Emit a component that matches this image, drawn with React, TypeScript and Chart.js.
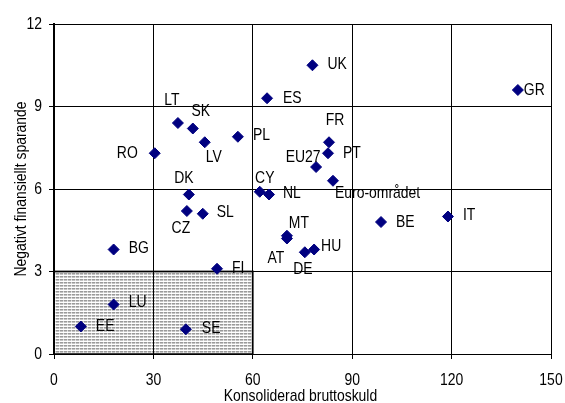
import { useEffect, useRef } from "react";
import { Chart, registerables } from "chart.js";

Chart.register(...registerables);

// Country / aggregate codes
const countries = [
  "UK", "GR", "ES", "LT", "SK", "LV", "PL", "RO", "FR", "PT", "EU27", "Euro-området",
  "DK", "CY", "NL", "CZ", "SL", "BE", "IT", "MT", "AT", "DE", "HU", "BG", "FI", "LU", "EE", "SE",
];

// Konsoliderad bruttoskuld (% av BNP)
const grossDebt = [
  78, 140, 64.3, 37.4, 41.9, 45.5, 55.5, 30.4, 83, 82.7, 79.1, 84.2,
  40.7, 62.1, 64.9, 40.1, 44.9, 98.7, 118.9, 70.3, 70.3, 75.7, 78.5, 18, 49.2, 18, 8.1, 39.8,
];

// Negativt finansiellt sparande (% av BNP)
const netLending = [
  10.5, 9.6, 9.3, 8.4, 8.2, 7.7, 7.9, 7.3, 7.7, 7.3, 6.8, 6.3,
  5.8, 5.9, 5.8, 5.2, 5.1, 4.8, 5.0, 4.3, 4.2, 3.7, 3.8, 3.8, 3.1, 1.8, 1.0, 0.9,
];

// Axis ticks and titles
const xTicks = [0, 30, 60, 90, 120, 150];
const yTicks = [0, 3, 6, 9, 12];
const xTitle = "Konsoliderad bruttoskuld";
const yTitle = "Negativt finansiellt sparande";

// Shaded reference zone (debt ≤ 60, deficit ≤ 3)
const zoneX = [0, 60];
const zoneY = [0, 3];

// Label placement relative to each marker: [dx, dy, align]
const labelOffsets: [number, number, CanvasTextAlign][] = [
  [15, -1, "left"], [6, 0, "left"], [16, 0, "left"], [-6, -23, "center"], [8, -17, "center"],
  [9, 15, "center"], [15, -1, "left"], [-17, 0, "right"], [6, -22, "center"], [15, 0, "left"],
  [-13, -10, "center"], [2, 13, "left"], [-5, -16, "center"], [5, -13, "center"], [14, -1, "left"],
  [-6, 17, "center"], [14, -1, "left"], [15, 0, "left"], [15, -1, "left"], [12, -12, "center"],
  [-11, 20, "center"], [-2, 17, "center"], [7, -3, "left"], [15, -1, "left"], [15, 0, "left"],
  [15, -2, "left"], [15, 0, "left"], [16, -1, "left"],
];

const FONT = "17px 'Liberation Sans', Arial, sans-serif";
const NARROW = 0.82; // horizontal squeeze for a condensed look

function narrowText(
  ctx: CanvasRenderingContext2D,
  text: string,
  x: number,
  y: number,
  align: CanvasTextAlign,
  rotate = false,
) {
  ctx.save();
  ctx.translate(x, y);
  if (rotate) ctx.rotate(-Math.PI / 2);
  ctx.scale(NARROW, 1);
  ctx.font = FONT;
  ctx.fillStyle = "#000";
  ctx.textAlign = align;
  ctx.textBaseline = "middle";
  ctx.fillText(text, 0, 0);
  ctx.restore();
}

function makePattern(ctx: CanvasRenderingContext2D) {
  const c = document.createElement("canvas");
  c.width = 4;
  c.height = 3;
  const p = c.getContext("2d")!;
  p.fillStyle = "#ffffff";
  p.fillRect(0, 0, 4, 3);
  p.fillStyle = "#9a9a9a";
  p.fillRect(0, 0, 3, 1);
  p.fillStyle = "#dadada";
  p.fillRect(3, 0, 1, 1);
  p.fillStyle = "#c4c4c4";
  p.fillRect(0, 1, 3, 1);
  p.fillStyle = "#f0f0f0";
  p.fillRect(3, 1, 1, 1);
  return ctx.createPattern(c, "repeat");
}

const zonePlugin = {
  id: "zone",
  beforeDraw(chart: any) {
    const { ctx, scales } = chart;
    const x0 = scales.x.getPixelForValue(zoneX[0]);
    const x1 = scales.x.getPixelForValue(zoneX[1]);
    const y0 = scales.y.getPixelForValue(zoneY[1]);
    const y1 = scales.y.getPixelForValue(zoneY[0]);
    ctx.save();
    ctx.fillStyle = makePattern(ctx) || "#ccc";
    ctx.fillRect(x0, y0, x1 - x0, y1 - y0);
    ctx.strokeStyle = "#404040";
    ctx.lineWidth = 2;
    ctx.strokeRect(x0, y0, x1 - x0, y1 - y0);
    ctx.restore();
  },
};

const textPlugin = {
  id: "narrowText",
  afterDraw(chart: any) {
    const { ctx, scales, chartArea } = chart;
    xTicks.forEach((v) => narrowText(ctx, String(v), scales.x.getPixelForValue(v), chartArea.bottom + 26, "center"));
    yTicks.forEach((v) => narrowText(ctx, String(v), chartArea.left - 12, scales.y.getPixelForValue(v), "right"));
    narrowText(ctx, xTitle, (chartArea.left + chartArea.right) / 2 - 2, chartArea.bottom + 42, "center");
    narrowText(ctx, yTitle, 21, (chartArea.top + chartArea.bottom) / 2, "center", true);
  },
  afterDatasetsDraw(chart: any) {
    const { ctx } = chart;
    const meta = chart.getDatasetMeta(0);
    meta.data.forEach((pt: any, i: number) => {
      const [dx, dy, align] = labelOffsets[i];
      narrowText(ctx, countries[i], pt.x + dx, pt.y + dy, align);
    });
  },
};

export default function App() {
  const ref = useRef<HTMLCanvasElement>(null);

  useEffect(() => {
    if (!ref.current) return;
    const chart = new Chart(ref.current, {
      type: "scatter",
      data: {
        datasets: [
          {
            data: countries.map((_, i) => ({ x: grossDebt[i], y: netLending[i] })),
            pointStyle: "rectRot",
            pointRadius: 5.5,
            pointHoverRadius: 5.5,
            backgroundColor: "#000080",
            borderColor: "#000080",
            borderWidth: 1,
          },
        ],
      },
      options: {
        animation: false,
        responsive: false,
        events: [],
        layout: { padding: { top: 24, right: 14, left: 0, bottom: 0 } },
        plugins: { legend: { display: false }, tooltip: { enabled: false } },
        scales: {
          x: {
            type: "linear",
            min: xTicks[0],
            max: xTicks[xTicks.length - 1],
            afterBuildTicks: (s: any) => { s.ticks = xTicks.map((v) => ({ value: v })); },
            afterFit: (s: any) => { s.height = 49; },
            ticks: { display: false },
            grid: { color: "#000", lineWidth: 1, tickLength: 5 },
            border: { color: "#000", width: 1 },
          },
          y: {
            type: "linear",
            min: yTicks[0],
            max: yTicks[yTicks.length - 1],
            afterBuildTicks: (s: any) => { s.ticks = yTicks.map((v) => ({ value: v })); },
            afterFit: (s: any) => { s.width = 54; },
            ticks: { display: false },
            grid: { color: "#000", lineWidth: 1, tickLength: 5 },
            border: { color: "#000", width: 2 },
          },
        },
      },
      plugins: [zonePlugin, textPlugin],
    });
    return () => chart.destroy();
  }, []);

  return (
    <div style={{ position: "fixed", left: 0, top: 0, width: 565, height: 403, background: "#fff" }}>
      <canvas ref={ref} width={565} height={403} style={{ display: "block" }} />
    </div>
  );
}
